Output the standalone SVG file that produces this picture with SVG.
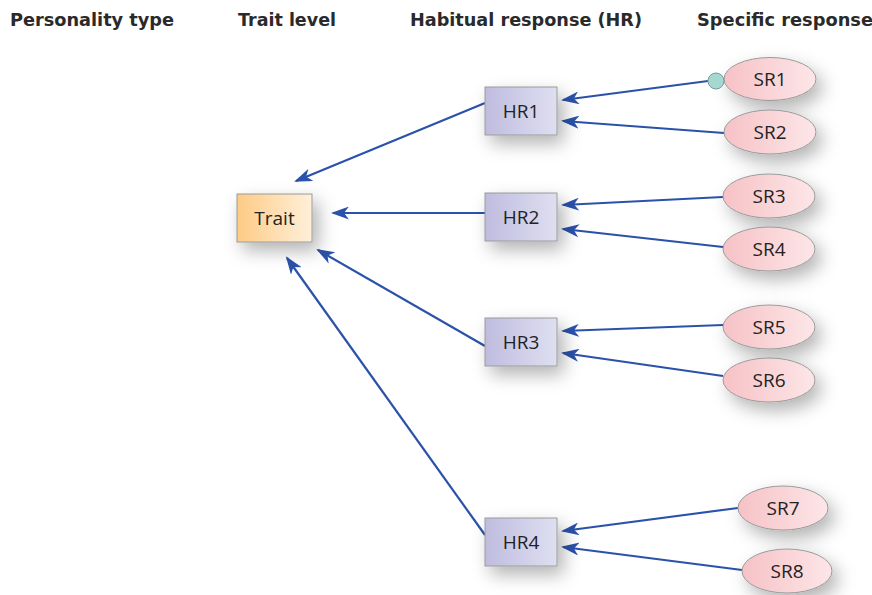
<svg xmlns="http://www.w3.org/2000/svg" width="872" height="595" viewBox="0 0 872 595">
<defs>
<style>
.hdr{font-family:"DejaVu Sans","Liberation Sans",sans-serif;font-weight:bold;font-size:17px;fill:#2a2a2a}
.lbl{font-family:"Open Sans","Liberation Sans",sans-serif;font-size:19px;fill:#222;text-anchor:middle;dominant-baseline:central}
.box{stroke:#9a9a9a;stroke-width:1}
.con{stroke:#2b52aa;stroke-width:2.2;fill:none;marker-end:url(#ah)}
</style>
<linearGradient id="gT" x1="0" x2="1" y1="0" y2="0"><stop offset="0" stop-color="#fdcb85"/><stop offset="1" stop-color="#fff0da"/></linearGradient>
<linearGradient id="gH" x1="0" x2="1" y1="0" y2="0"><stop offset="0" stop-color="#bfbcdf"/><stop offset="1" stop-color="#dfdff1"/></linearGradient>
<linearGradient id="gS" x1="0" x2="1" y1="0" y2="0"><stop offset="0" stop-color="#f6c2c6"/><stop offset="1" stop-color="#fde6e8"/></linearGradient>
<filter id="sh" x="-60%" y="-60%" width="220%" height="220%"><feDropShadow dx="6" dy="8" stdDeviation="9" flood-color="#000" flood-opacity="0.3"/></filter>
<marker id="ah" markerWidth="18" markerHeight="13" refX="16" refY="6.5" orient="auto" markerUnits="userSpaceOnUse"><path d="M0,0 L18,6.5 L0,13 L5,6.5 Z" fill="#2b52aa"/></marker>
</defs>
<rect width="872" height="595" fill="#fff"/>
<text class="hdr" x="10" y="26" textLength="164" lengthAdjust="spacingAndGlyphs">Personality type</text>
<text class="hdr" x="238" y="26" textLength="98" lengthAdjust="spacingAndGlyphs">Trait level</text>
<text class="hdr" x="410" y="26" textLength="232" lengthAdjust="spacingAndGlyphs">Habitual response (HR)</text>
<text class="hdr" x="697" y="26" textLength="176" lengthAdjust="spacingAndGlyphs">Specific response</text>

<g id="connectors">
<line class="con" x1="708" y1="81" x2="563" y2="100"/>
<line class="con" x1="724" y1="133" x2="563" y2="121"/>
<line class="con" x1="723" y1="197" x2="563" y2="205"/>
<line class="con" x1="723" y1="247" x2="563" y2="229"/>
<line class="con" x1="723" y1="325" x2="563" y2="331"/>
<line class="con" x1="723" y1="376" x2="563" y2="353"/>
<line class="con" x1="738" y1="508" x2="563" y2="531"/>
<line class="con" x1="742" y1="570" x2="563" y2="547"/>
<line class="con" x1="485" y1="103" x2="296" y2="181"/>
<line class="con" x1="485" y1="213" x2="333" y2="213"/>
<line class="con" x1="485" y1="346" x2="318" y2="250"/>
<line class="con" x1="485" y1="535" x2="287" y2="258"/>
</g>

<g id="trait"><rect class="box" x="237" y="194" width="75" height="48" fill="url(#gT)" filter="url(#sh)"/><text class="lbl" x="274.5" y="218">Trait</text></g>
<g id="hr1"><rect class="box" x="485" y="87" width="72" height="48" fill="url(#gH)" filter="url(#sh)"/><text class="lbl" x="521" y="111">HR1</text></g>
<g id="hr2"><rect class="box" x="485" y="193" width="72" height="48" fill="url(#gH)" filter="url(#sh)"/><text class="lbl" x="521" y="217">HR2</text></g>
<g id="hr3"><rect class="box" x="485" y="318" width="72" height="48" fill="url(#gH)" filter="url(#sh)"/><text class="lbl" x="521" y="342">HR3</text></g>
<g id="hr4"><rect class="box" x="485" y="518" width="72" height="48" fill="url(#gH)" filter="url(#sh)"/><text class="lbl" x="521" y="542">HR4</text></g>

<g id="sr1"><ellipse class="box" cx="770" cy="79" rx="46" ry="21.5" fill="url(#gS)" filter="url(#sh)"/><text class="lbl" x="770" y="79">SR1</text><circle cx="716" cy="81" r="8" fill="#a6d8d2" stroke="#7a9a98" stroke-width="1"/></g>
<g id="sr2"><ellipse class="box" cx="770" cy="132" rx="46" ry="22" fill="url(#gS)" filter="url(#sh)"/><text class="lbl" x="770" y="132">SR2</text></g>
<g id="sr3"><ellipse class="box" cx="769" cy="196" rx="46" ry="22" fill="url(#gS)" filter="url(#sh)"/><text class="lbl" x="769" y="196">SR3</text></g>
<g id="sr4"><ellipse class="box" cx="769" cy="249" rx="46" ry="22" fill="url(#gS)" filter="url(#sh)"/><text class="lbl" x="769" y="249">SR4</text></g>
<g id="sr5"><ellipse class="box" cx="769" cy="327" rx="46" ry="22" fill="url(#gS)" filter="url(#sh)"/><text class="lbl" x="769" y="327">SR5</text></g>
<g id="sr6"><ellipse class="box" cx="769" cy="380" rx="46" ry="22" fill="url(#gS)" filter="url(#sh)"/><text class="lbl" x="769" y="380">SR6</text></g>
<g id="sr7"><ellipse class="box" cx="783" cy="508" rx="45" ry="22" fill="url(#gS)" filter="url(#sh)"/><text class="lbl" x="783" y="508">SR7</text></g>
<g id="sr8"><ellipse class="box" cx="787" cy="571" rx="45" ry="22" fill="url(#gS)" filter="url(#sh)"/><text class="lbl" x="787" y="571">SR8</text></g>
</svg>
